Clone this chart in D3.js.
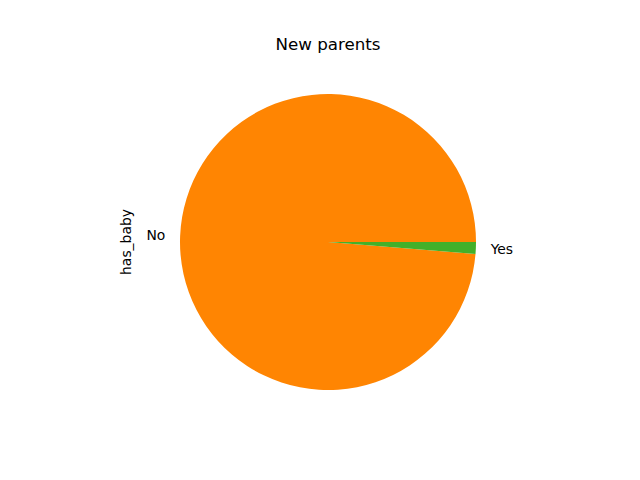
<!DOCTYPE html>
<html>
<head>
<meta charset="utf-8">
<script src="https://cdn.jsdelivr.net/npm/d3@7"></script>
<style>
	body { margin: 0; background: #fff; }
	svg { display: block; font-family: "DejaVu Sans", sans-serif; }
</style>
</head>
<body>
<svg width="640" height="480"></svg>
<script>
const labels = ["No", "Yes"];
const counts = [987, 13];
const colours = ["#ff8502", "#43b02a"];

const svg = d3.select("svg");
const cx = 328, cy = 242, radius = 148;

svg.append("text")
	.attr("x", 328)
	.attr("y", 44)
	.attr("text-anchor", "middle")
	.attr("dominant-baseline", "central")
	.attr("font-size", "16.7px")
	.text("New parents");

svg.append("text")
	.attr("transform", `translate(126,${cy}) rotate(-90)`)
	.attr("text-anchor", "middle")
	.attr("dominant-baseline", "central")
	.attr("font-size", "13.9px")
	.text("has_baby");

// matplotlib style: start at 3 o'clock, go counterclockwise
const pie = d3.pie()
	.sort(null)
	.startAngle(Math.PI / 2)
	.endAngle(Math.PI / 2 - 2 * Math.PI);

const data = labels.map((l, i) => ({ label: l, value: counts[i], colour: colours[i] }));
const arcs = pie.value(d => d.value)(data);

const arc = d3.arc().innerRadius(0).outerRadius(radius);

const g = svg.append("g")
	.attr("transform", `translate(${cx},${cy})`);

g.selectAll("path")
	.data(arcs)
	.join("path")
	.attr("fill", d => d.data.colour)
	.attr("d", arc);

g.selectAll("text")
	.data(arcs)
	.join("text")
	.attr("x", d => Math.sin((d.startAngle + d.endAngle) / 2) * radius * 1.1)
	.attr("y", d => -Math.cos((d.startAngle + d.endAngle) / 2) * radius * 1.1)
	.attr("text-anchor", d => Math.sin((d.startAngle + d.endAngle) / 2) < 0 ? "end" : "start")
	.attr("dominant-baseline", "central")
	.attr("font-size", "13.9px")
	.text(d => d.data.label);
</script>
</body>
</html>
